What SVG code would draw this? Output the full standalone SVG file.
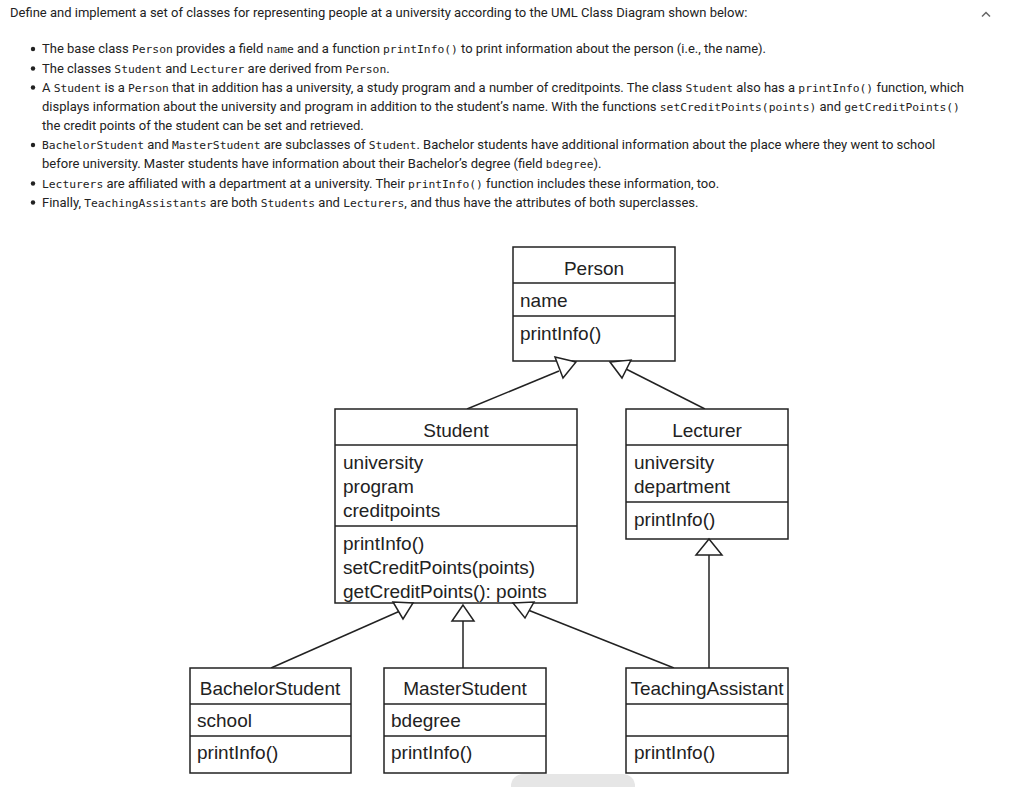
<svg xmlns="http://www.w3.org/2000/svg" width="1024" height="787" viewBox="0 0 1024 787">
<style>
.p{font-family:Roboto,"Liberation Sans",sans-serif;font-size:13px;fill:#222}
.c{font-family:"DejaVu Sans Mono","Liberation Mono",monospace;font-size:11.3px}
.t{font-family:"Liberation Sans",Arial,sans-serif;font-size:19px;fill:#222}
.m{text-anchor:middle}
.box{fill:#fff;stroke:#222;stroke-width:1.5}
.div{stroke:#222;stroke-width:1.5}
.ln{stroke:#222;stroke-width:1.5;fill:none}
.tri{fill:#fff;stroke:#222;stroke-width:1.5;stroke-linejoin:miter}
</style>
<rect width="1024" height="787" fill="#fff"/>
<g id="intro">
<text class="p" x="10" y="17">Define and implement a set of classes for representing people at a university according to the UML Class Diagram shown below:</text>
<path d="M982 16.5 L986 12.5 L990 16.5" fill="none" stroke="#666" stroke-width="1.5"/>
<g fill="#222">
<circle cx="33" cy="49" r="2.2"/><circle cx="33" cy="68.5" r="2.2"/><circle cx="33" cy="87.5" r="2.2"/><circle cx="33" cy="145" r="2.2"/><circle cx="33" cy="183.5" r="2.2"/><circle cx="33" cy="202.5" r="2.2"/>
</g>
<text class="p" x="42" y="53">The base class <tspan class="c">Person</tspan> provides a field <tspan class="c">name</tspan> and a function <tspan class="c">printInfo()</tspan> to print information about the person (i.e., the name).</text>
<text class="p" x="42" y="73">The classes <tspan class="c">Student</tspan> and <tspan class="c">Lecturer</tspan> are derived from <tspan class="c">Person</tspan>.</text>
<text class="p" x="42" y="92">A <tspan class="c">Student</tspan> is a <tspan class="c">Person</tspan> that in addition has a university, a study program and a number of creditpoints. The class <tspan class="c">Student</tspan> also has a <tspan class="c">printInfo()</tspan> function, which</text>
<text class="p" x="42" y="111">displays information about the university and program in addition to the student’s name. With the functions <tspan class="c">setCreditPoints(points)</tspan> and <tspan class="c">getCreditPoints()</tspan></text>
<text class="p" x="42" y="130">the credit points of the student can be set and retrieved.</text>
<text class="p" x="42" y="149"><tspan class="c">BachelorStudent</tspan> and <tspan class="c">MasterStudent</tspan> are subclasses of <tspan class="c">Student</tspan>. Bachelor students have additional information about the place where they went to school</text>
<text class="p" x="42" y="168">before university. Master students have information about their Bachelor’s degree (field <tspan class="c">bdegree</tspan>).</text>
<text class="p" x="42" y="188"><tspan class="c">Lecturers</tspan> are affiliated with a department at a university. Their <tspan class="c">printInfo()</tspan> function includes these information, too.</text>
<text class="p" x="42" y="207">Finally, <tspan class="c">TeachingAssistants</tspan> are both <tspan class="c">Students</tspan> and <tspan class="c">Lecturers</tspan>, and thus have the attributes of both superclasses.</text>
</g>
<g id="connectors">
<line class="ln" x1="467" y1="409" x2="559" y2="371"/>
<line class="ln" x1="705" y1="409" x2="626" y2="369"/>
<line class="ln" x1="271" y1="668" x2="400" y2="611"/>
<line class="ln" x1="463" y1="668" x2="463" y2="620"/>
<line class="ln" x1="674" y1="668" x2="528" y2="610"/>
<line class="ln" x1="709" y1="668" x2="709" y2="555"/>
</g>
<g id="person">
<rect class="box" x="513" y="247" width="162" height="114"/>
<line class="div" x1="513" y1="283" x2="675" y2="283"/>
<line class="div" x1="513" y1="316" x2="675" y2="316"/>
<text class="t m" x="594" y="275">Person</text>
<text class="t" x="520" y="307">name</text>
<text class="t" x="520" y="340">printInfo()</text>
</g>
<g id="student">
<rect class="box" x="335" y="409" width="242" height="194"/>
<line class="div" x1="335" y1="445" x2="577" y2="445"/>
<line class="div" x1="335" y1="526" x2="577" y2="526"/>
<text class="t m" x="456" y="437">Student</text>
<text class="t" x="343" y="469">university</text>
<text class="t" x="343" y="493">program</text>
<text class="t" x="343" y="517">creditpoints</text>
<text class="t" x="343" y="550">printInfo()</text>
<text class="t" x="343" y="574">setCreditPoints(points)</text>
<text class="t" x="343" y="598">getCreditPoints(): points</text>
</g>
<g id="lecturer">
<rect class="box" x="626" y="409" width="162" height="130"/>
<line class="div" x1="626" y1="445" x2="788" y2="445"/>
<line class="div" x1="626" y1="502" x2="788" y2="502"/>
<text class="t m" x="707" y="437">Lecturer</text>
<text class="t" x="634" y="469">university</text>
<text class="t" x="634" y="493">department</text>
<text class="t" x="634" y="526">printInfo()</text>
</g>
<g id="bachelorstudent">
<rect class="box" x="190" y="668" width="161" height="105"/>
<line class="div" x1="190" y1="704" x2="351" y2="704"/>
<line class="div" x1="190" y1="736" x2="351" y2="736"/>
<text class="t m" x="270" y="695">BachelorStudent</text>
<text class="t" x="197" y="727">school</text>
<text class="t" x="197" y="759">printInfo()</text>
</g>
<g id="masterstudent">
<rect class="box" x="384" y="668" width="162" height="105"/>
<line class="div" x1="384" y1="704" x2="546" y2="704"/>
<line class="div" x1="384" y1="736" x2="546" y2="736"/>
<text class="t m" x="465" y="695">MasterStudent</text>
<text class="t" x="391" y="727">bdegree</text>
<text class="t" x="391" y="759">printInfo()</text>
</g>
<g id="teachingassistant">
<rect class="box" x="626" y="668" width="162" height="105"/>
<line class="div" x1="626" y1="704" x2="788" y2="704"/>
<line class="div" x1="626" y1="736" x2="788" y2="736"/>
<text class="t m" x="707" y="695">TeachingAssistant</text>
<text class="t" x="634" y="759">printInfo()</text>
</g>
<g id="arrowheads">
<polygon class="tri" points="555,357 576,362 563,378"/>
<polygon class="tri" points="610,362 631,360 622,378"/>
<polygon class="tri" points="393,602 413,603 403,619"/>
<polygon class="tri" points="463,605 452,621 474,621"/>
<polygon class="tri" points="513,603 534,602 525,618"/>
<polygon class="tri" points="709,539 696,555 722,555"/>
</g>
<rect x="511" y="774" width="124" height="30" rx="12" fill="#e6e6e6"/>
</svg>
